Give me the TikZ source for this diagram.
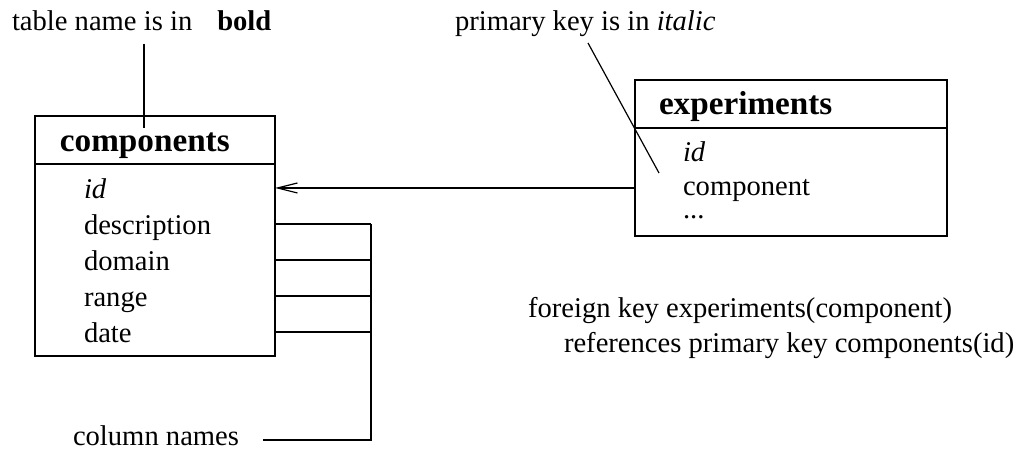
\documentclass[tikz,border=0pt]{standalone}
\usepackage{fontspec}
\setmainfont{Liberation Serif}
\usetikzlibrary{arrows.meta}
\begin{document}
\begin{tikzpicture}[x=0.5pt,y=-0.5pt,line width=0.6pt,
  txt/.style={inner sep=0pt,outer sep=0pt,anchor=base west,font=\fontsize{14.3}{17}\selectfont},
  tname/.style={txt,font=\fontsize{16.6}{20}\selectfont\bfseries},
  tablebox/.style={draw,rectangle,inner sep=0pt,outer sep=0pt}]
\useasboundingbox (0,0) rectangle (1018,453);

% table: components
\node[tablebox,minimum width=120pt,minimum height=120pt] (comp) at (155,236) {};
\draw (comp.west |- 0,164) -- (comp.east |- 0,164);
\node[tname] (compname) at (60,152) {components};
\node[txt] (cid)   at (84,199) {\itshape id};
\node[txt] (cdesc) at (84,235) {description};
\node[txt] (cdom)  at (84,271) {domain};
\node[txt] (crng)  at (84,307) {range};
\node[txt] (cdate) at (84,343) {date};

% table: experiments
\node[tablebox,minimum width=156pt,minimum height=78pt] (exp) at (791,158) {};
\draw (exp.west |- 0,128) -- (exp.east |- 0,128);
\node[tname] (expname) at (659,115) {experiments};
\node[txt] (eid)   at (683,162) {\itshape id};
\node[txt] (ecomp) at (683,196) {component};
\node[txt] (edots) at (683,219) {...};

% foreign key reference
\coordinate (fkrow) at (0,188);
\draw[-{Straight Barb[length=10pt,width=5pt]}] (exp.west |- fkrow) -- (comp.east |- fkrow);

% annotations
\node[txt] (boldnote) at (12,31) {table name is in\hspace{12.5pt}\textbf{bold}};
\coordinate (boldtop) at (144,44);
\coordinate (boldend) at (144,128);
\draw (boldtop) -- (boldend);

\node[txt] (italnote) at (455,31) {primary key is in \textit{italic}};
\coordinate (itaftop) at (588,43);
\coordinate (itafend) at (659,173);
\draw (itaftop) -- (itafend);

\node[txt] (fk1) at (528,318) {foreign key experiments(component)};
\node[txt] (fk2) at (564,353) {references primary key components(id)};

% column name bracket
\node[txt] (colnote) at (73,446) {column names};
\coordinate (k1) at (371,224);
\coordinate (k2) at (371,260);
\coordinate (k3) at (371,296);
\coordinate (k4) at (371,332);
\coordinate (kc) at (371,440);
\coordinate (kend) at (263,440);
\draw (comp.east |- k1) -- (k1);
\draw (comp.east |- k2) -- (k2);
\draw (comp.east |- k3) -- (k3);
\draw (comp.east |- k4) -- (k4);
\draw (k1) -- (kc) -- (kend);
\end{tikzpicture}
\end{document}
